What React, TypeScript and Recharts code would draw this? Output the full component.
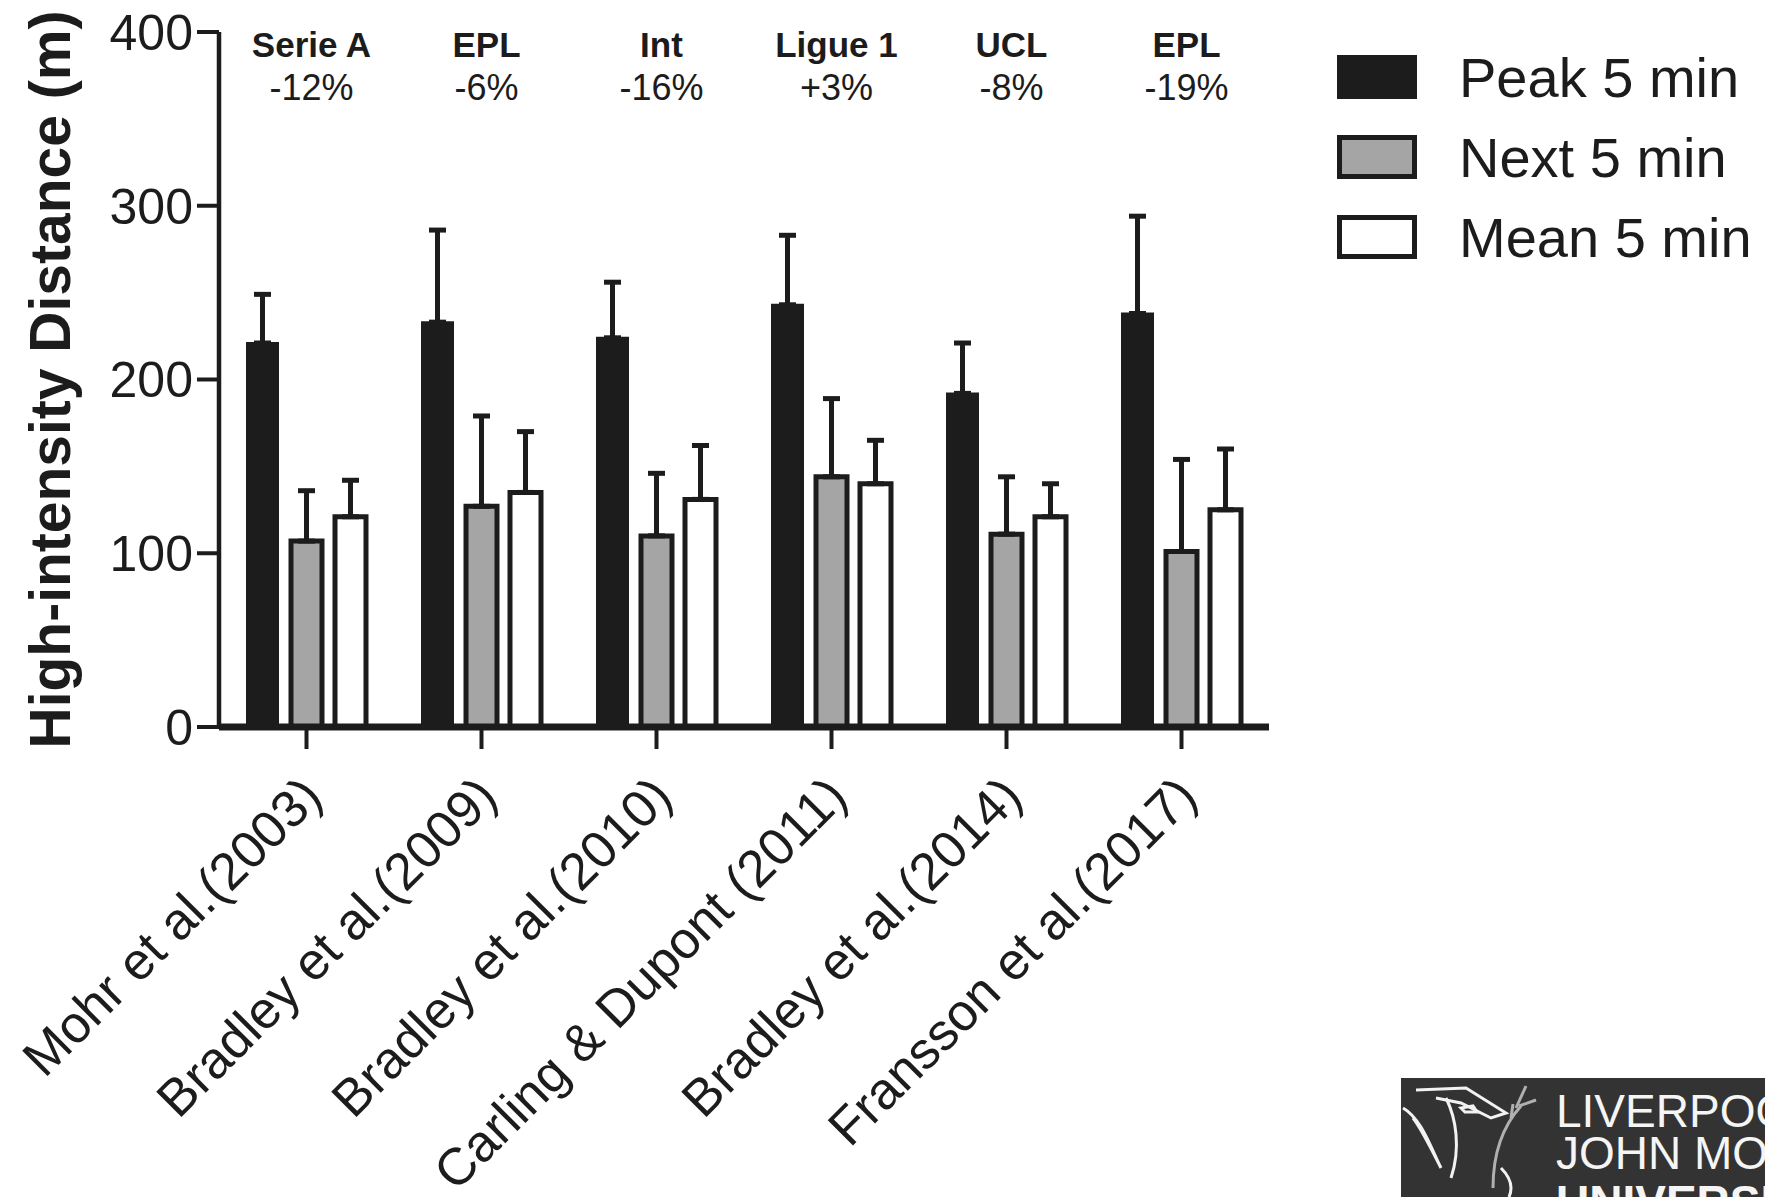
import { BarChart, Bar, XAxis, YAxis, ErrorBar, Legend } from 'recharts'

const studies = [
  'Mohr et al.(2003)',
  'Bradley et al.(2009)',
  'Bradley et al.(2010)',
  'Carling & Dupont (2011)',
  'Bradley et al.(2014)',
  'Fransson et al.(2017)',
]
const leagues = ['Serie A', 'EPL', 'Int', 'Ligue 1', 'UCL', 'EPL']
const changes = ['-12%', '-6%', '-16%', '+3%', '-8%', '-19%']

const peak = [221, 233, 224, 243, 192, 238]
const peakSd = [28, 53, 32, 40, 29, 56]
const next = [107, 127, 110, 144, 111, 101]
const nextSd = [29, 52, 36, 45, 33, 53]
const mean = [121, 135, 131, 140, 121, 125]
const meanSd = [21, 35, 31, 25, 19, 35]

const yTicks = [0, 100, 200, 300, 400]

const seriesNames = ['Peak 5 min', 'Next 5 min', 'Mean 5 min']
const seriesFills = ['#1c1c1c', '#a5a5a5', '#ffffff']

const INK = '#1c1c1c'
const FONT = '"Liberation Sans", Arial, Helvetica, sans-serif'

const data = studies.map((study, i) => ({
  study,
  peak: peak[i],
  peakErr: [0, peakSd[i]],
  next: next[i],
  nextErr: [0, nextSd[i]],
  mean: mean[i],
  meanErr: [0, meanSd[i]],
}))

function StudyTick({ x, y, payload }: any) {
  const tx = x + 18
  const ty = y + 50
  return (
    <text
      x={tx}
      y={ty}
      transform={`rotate(-45, ${tx}, ${ty})`}
      textAnchor="end"
      fontSize={52}
      fontFamily={FONT}
      fill={INK}
    >
      {payload.value}
    </text>
  )
}

function LeagueTick({ x, y, payload }: any) {
  const i = payload.index
  return (
    <g fontFamily={FONT} fill={INK} textAnchor="middle">
      <text x={x + 5} y={y + 25} fontSize={35} fontWeight="bold">
        {leagues[i]}
      </text>
      <text x={x + 5} y={y + 68} fontSize={36}>
        {changes[i]}
      </text>
    </g>
  )
}

function YLabel({ viewBox }: any) {
  const cy = viewBox.y + viewBox.height / 2
  return (
    <text
      x={70}
      y={cy}
      transform={`rotate(-90, 70, ${cy})`}
      textAnchor="middle"
      fontSize={57}
      fontWeight="bold"
      fontFamily={FONT}
      fill={INK}
    >
      High-intensity Distance (m)
    </text>
  )
}

function LegendBox() {
  return (
    <svg width={425} height={210}>
      {seriesNames.map((name, i) => (
        <g key={name}>
          <rect
            x={2.5}
            y={2.5 + i * 80}
            width={75}
            height={39}
            fill={seriesFills[i]}
            stroke={INK}
            strokeWidth={5}
          />
          <text x={122} y={42 + i * 80} fontSize={56} fontFamily={FONT} fill={INK}>
            {name}
          </text>
        </g>
      ))}
    </svg>
  )
}

function Logo() {
  return (
    <svg
      width={364}
      height={119}
      style={{ position: 'absolute', left: 1401, top: 1078 }}
    >
      <rect x={0} y={0} width={364} height={119} fill="#333333" />
      <g fill="none" stroke="#f2f2f2" strokeWidth={3}>
        <path d="M 2 30 C 20 40, 30 70, 40 90 C 30 70, 20 50, 12 40" />
        <path d="M 15 12 L 65 10 L 105 35 L 90 40 L 60 25 L 35 20" />
        <path d="M 60 30 L 72 28 L 76 34 L 64 34 Z" />
        <path d="M 45 20 C 55 40, 60 70, 50 100" />
        <path d="M 100 90 C 110 100, 112 110, 108 119" />
      </g>
      <g fill="none" stroke="#b0b0b0" strokeWidth={3}>
        <path d="M 92 110 C 92 80, 100 50, 120 28" />
        <path d="M 115 30 L 125 8 M 118 28 L 135 22 M 110 40 L 112 26" />
      </g>
      <g fill="#f5f5f5" fontFamily={FONT}>
        <text x={155} y={49} fontSize={46}>
          LIVERPOOL
        </text>
        <text x={155} y={91} fontSize={46}>
          JOHN MOORES
        </text>
        <text x={155} y={140} fontSize={46} fontWeight="bold">
          UNIVERSITY
        </text>
      </g>
    </svg>
  )
}

export default function App() {
  return (
    <div
      style={{
        position: 'absolute',
        left: 0,
        top: 0,
        width: 1765,
        height: 1197,
        background: '#ffffff',
        overflow: 'hidden',
      }}
    >
      <BarChart
        width={1765}
        height={1197}
        data={data}
        margin={{ top: 31, right: 496, bottom: 0, left: 0 }}
        barSize={31}
        barGap={13}
      >
        <XAxis
          dataKey="study"
          interval={0}
          height={470}
          tick={<StudyTick />}
          tickSize={22}
          tickMargin={0}
          axisLine={{ stroke: INK, strokeWidth: 7 }}
          tickLine={{ stroke: INK, strokeWidth: 4 }}
        />
        <XAxis
          xAxisId="top"
          orientation="top"
          dataKey="study"
          interval={0}
          height={1}
          tick={<LeagueTick />}
          tickSize={0}
          tickMargin={0}
          axisLine={false}
          tickLine={false}
        />
        <YAxis
          domain={[0, 400]}
          ticks={yTicks}
          width={219}
          tickSize={22}
          tickMargin={4}
          tick={{ fill: INK, fontSize: 50, fontFamily: FONT }}
          axisLine={{ stroke: INK, strokeWidth: 4.5 }}
          tickLine={{ stroke: INK, strokeWidth: 4 }}
          label={<YLabel />}
        />
        <Legend
          layout="vertical"
          align="center"
          verticalAlign="middle"
          wrapperStyle={{ left: 1337, top: 55, width: 425, height: 210 }}
          content={() => <LegendBox />}
        />
        <Bar dataKey="peak" name={seriesNames[0]} fill={seriesFills[0]} stroke={INK} strokeWidth={2} isAnimationActive={false}>
          <ErrorBar dataKey="peakErr" direction="y" width={8.5} stroke={INK} strokeWidth={5} />
        </Bar>
        <Bar dataKey="next" name={seriesNames[1]} fill={seriesFills[1]} stroke={INK} strokeWidth={5} isAnimationActive={false}>
          <ErrorBar dataKey="nextErr" direction="y" width={8.5} stroke={INK} strokeWidth={5} />
        </Bar>
        <Bar dataKey="mean" name={seriesNames[2]} fill={seriesFills[2]} stroke={INK} strokeWidth={5} isAnimationActive={false}>
          <ErrorBar dataKey="meanErr" direction="y" width={8.5} stroke={INK} strokeWidth={5} />
        </Bar>
      </BarChart>
      <Logo />
    </div>
  )
}
